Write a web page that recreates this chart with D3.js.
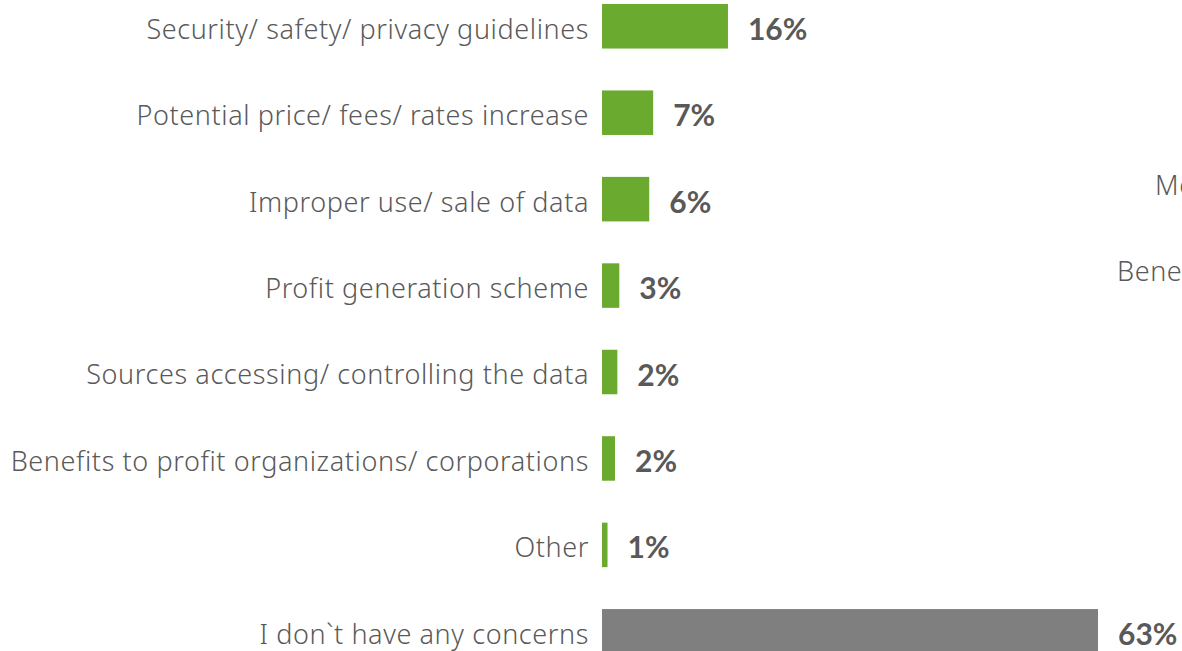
<!DOCTYPE html>
<html>
<head>
<meta charset="utf-8">
<script src="https://cdn.jsdelivr.net/npm/d3@7"></script>
<style>
  html, body { margin: 0; padding: 0; background: #ffffff; overflow: hidden; }
  svg { display: block; }
</style>
</head>
<body>
<svg id="chart" width="1182" height="651"></svg>
<script>
// ---- data ----
const categories = [
  "Security/ safety/ privacy guidelines",
  "Potential price/ fees/ rates increase",
  "Improper use/ sale of data",
  "Profit generation scheme",
  "Sources accessing/ controlling the data",
  "Benefits to profit organizations/ corporations",
  "Other",
  "I don`t have any concerns"
];
const values = [16, 6.5, 6, 2.2, 1.95, 1.65, 0.7, 63];
const valueLabels = ["16%", "7%", "6%", "3%", "2%", "2%", "1%", "63%"];
const barColors = ["#6aaa2e", "#6aaa2e", "#6aaa2e", "#6aaa2e", "#6aaa2e", "#6aaa2e", "#6aaa2e", "#7f7f7f"];
// partially visible labels of a neighbouring chart, cut off at the right edge
const strayLabels = ["Mo", "Bene"];
const strayRows = [2, 3];

// ---- layout ----
const svg = d3.select("#chart");
const x = d3.scaleLinear().domain([0, 63]).range([602, 1098]);
const y = d3.scaleBand().domain(categories).range([-37.9, 695.5]).paddingInner(0.485).paddingOuter(0.485);

const textColor = "#595959";
const labelFont = "'Noto Sans', 'DejaVu Sans', sans-serif";

svg.selectAll("rect.bar")
  .data(categories)
  .join("rect")
  .attr("class", "bar")
  .attr("x", x(0))
  .attr("y", d => y(d))
  .attr("width", (d, i) => x(values[i]) - x(0))
  .attr("height", y.bandwidth())
  .attr("fill", (d, i) => barColors[i]);

svg.selectAll("text.cat")
  .data(categories)
  .join("text")
  .attr("class", "cat")
  .attr("x", 589)
  .attr("y", d => y(d) + y.bandwidth() / 2 + 3)
  .attr("dy", "0.35em")
  .attr("text-anchor", "end")
  .attr("font-family", labelFont)
  .attr("font-weight", 300)
  .attr("font-size", 27)
  .attr("letter-spacing", 0.6)
  .attr("fill", textColor)
  .text(d => d);

svg.selectAll("text.val")
  .data(categories)
  .join("text")
  .attr("class", "val")
  .attr("x", (d, i) => x(values[i]) + 20)
  .attr("y", d => y(d) + y.bandwidth() / 2 + 3)
  .attr("dy", "0.35em")
  .attr("font-family", "Lato, 'Open Sans', sans-serif")
  .attr("font-weight", "bold")
  .attr("font-size", 30)
  .attr("fill", textColor)
  .text((d, i) => valueLabels[i]);

svg.selectAll("text.stray")
  .data(strayLabels)
  .join("text")
  .attr("class", "stray")
  .attr("x", (d, i) => i === 0 ? 1155 : 1117)
  .attr("y", (d, i) => y(categories[strayRows[i]]) + y.bandwidth() / 2 - 14)
  .attr("dy", "0.35em")
  .attr("font-family", labelFont)
  .attr("font-weight", 300)
  .attr("font-size", 27)
  .attr("letter-spacing", 0.6)
  .attr("fill", textColor)
  .text(d => d);
</script>
</body>
</html>
